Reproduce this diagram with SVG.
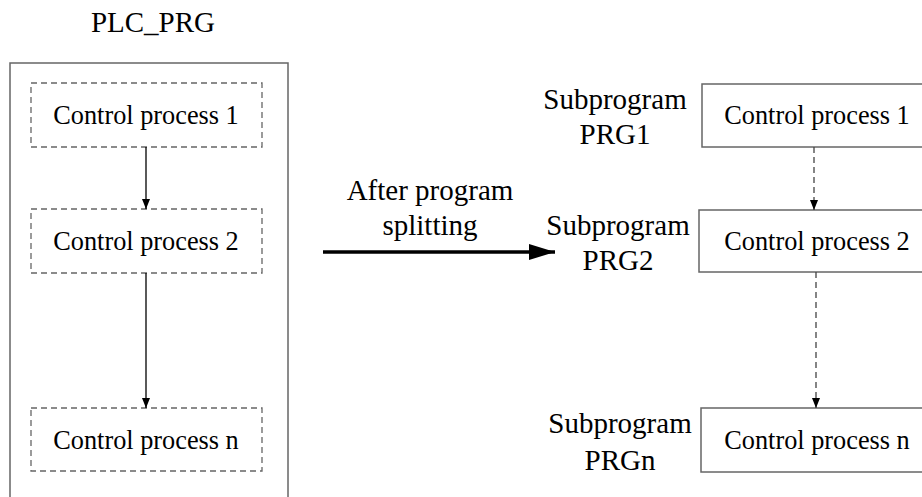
<svg xmlns="http://www.w3.org/2000/svg" width="922" height="497" viewBox="0 0 922 497">
<defs>
<style>
.t{font-size:26.3px}
.lbl{font-size:29px}
.dbox{fill:#fff;stroke:#666;stroke-width:1.3;stroke-dasharray:6,4}
.sbox{fill:#fff;stroke:#666;stroke-width:1.5}
.outer{fill:none;stroke:#666;stroke-width:1.5}
.c{stroke:#000;stroke-width:1.3;fill:none}
.cd{stroke:#444;stroke-width:1.3;fill:none;stroke-dasharray:6,4}
.thick{stroke:#000;stroke-width:3.5;fill:none}
</style>
<marker id="ah" viewBox="0 0 10 10" refX="10" refY="5" markerWidth="10" markerHeight="10" markerUnits="userSpaceOnUse" orient="auto"><path d="M0,1 L10,5 L0,9 z" fill="#000"/></marker>
<marker id="ahb" viewBox="0 0 10 10" refX="10" refY="5" markerWidth="26" markerHeight="16" markerUnits="userSpaceOnUse" orient="auto" preserveAspectRatio="none"><path d="M0,0 L10,5 L0,10 z" fill="#000"/></marker>
</defs>
<g font-family="'Liberation Serif', 'Times New Roman', serif" fill="#000" text-anchor="middle">
<g id="plc_prg">
<text class="lbl" x="153" y="32">PLC_PRG</text>
<rect class="outer" x="10" y="63" width="278" height="450"/>
</g>
<g id="left1">
<rect class="dbox" x="31" y="83" width="231" height="64"/>
<text class="t" x="146" y="124">Control process 1</text>
</g>
<g id="left2">
<rect class="dbox" x="31" y="209" width="231" height="64"/>
<text class="t" x="146" y="250">Control process 2</text>
</g>
<g id="leftn">
<rect class="dbox" x="31" y="408" width="231" height="63"/>
<text class="t" x="146" y="449">Control process n</text>
</g>
<g id="right1">
<text class="lbl" x="615" y="109">Subprogram</text>
<text class="lbl" x="615" y="144">PRG1</text>
<rect class="sbox" x="702" y="84" width="232" height="63"/>
<text class="t" x="817" y="124">Control process 1</text>
</g>
<g id="right2">
<text class="lbl" x="618" y="235">Subprogram</text>
<text class="lbl" x="618" y="270">PRG2</text>
<rect class="sbox" x="699" y="210" width="235" height="62"/>
<text class="t" x="817" y="250">Control process 2</text>
</g>
<g id="rightn">
<text class="lbl" x="620" y="433">Subprogram</text>
<text class="lbl" x="620" y="470">PRGn</text>
<rect class="sbox" x="701" y="408" width="233" height="64"/>
<text class="t" x="817" y="449">Control process n</text>
</g>
<g id="connectors">
<line class="c" x1="146" y1="147" x2="146" y2="209" marker-end="url(#ah)"/>
<line class="c" x1="146" y1="273" x2="146" y2="408" marker-end="url(#ah)"/>
<line class="cd" x1="814" y1="147" x2="814" y2="210" marker-end="url(#ah)"/>
<line class="cd" x1="816" y1="272" x2="816" y2="408" marker-end="url(#ah)"/>
<line class="thick" x1="323" y1="252" x2="555" y2="252" marker-end="url(#ahb)"/>
<text class="lbl" x="430" y="200">After program</text>
<text class="lbl" x="430" y="235">splitting</text>
</g>
</g>
</svg>
